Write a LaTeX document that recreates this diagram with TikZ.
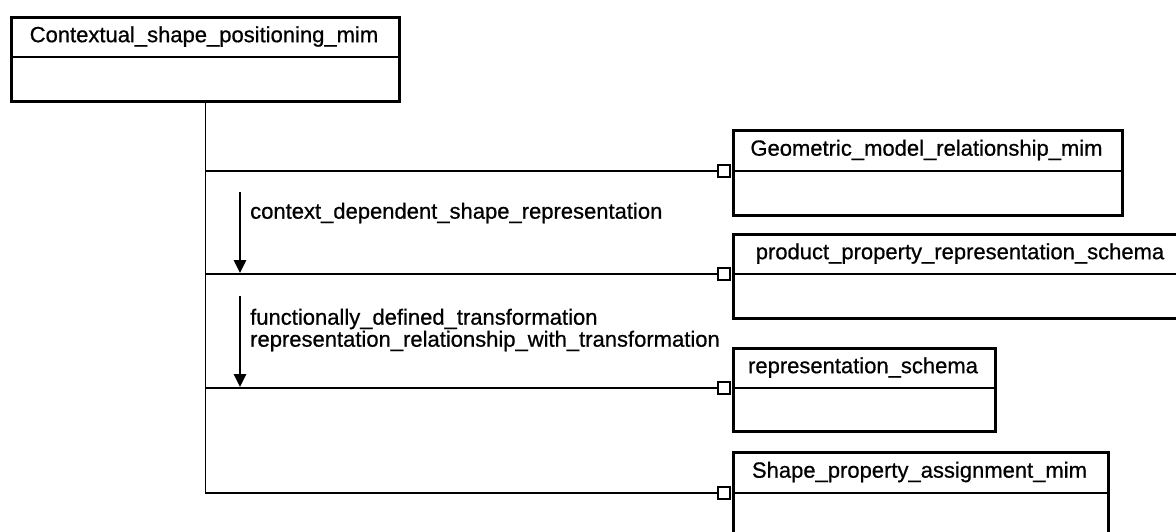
\documentclass[tikz,border=0pt]{standalone}
\usepackage{fontspec}
\setmainfont{Liberation Sans}
\newfontfamily\diagfont[FakeBold=0.7]{Liberation Sans}
\usetikzlibrary{arrows.meta}
\begin{document}
\begin{tikzpicture}[x=1pt,y=-1pt,
  cls/.style={draw, line width=2.6pt, inner sep=0pt, anchor=north west},
  ttl/.style={font=\diagfont\fontsize{22}{22}\selectfont, inner sep=0pt},
  lbl/.style={font=\diagfont\fontsize{22}{22}\selectfont, inner sep=0pt, anchor=west, align=left},
  port/.style={draw, fill=white, line width=2.4pt, minimum size=12pt, inner sep=0pt},
  divider/.style={line width=2.6pt},
  thindiv/.style={line width=1.5pt},
  link/.style={line width=2.6pt},
  thinlink/.style={line width=1.6pt},
  role/.style={line width=2.6pt, -{Triangle[length=13pt,width=12pt]}},
]
\useasboundingbox (0,0) rectangle (1176,531);
\clip (0,0) rectangle (1176,531);
% classes
\node[cls, minimum width=388pt, minimum height=84pt] (ctx) at (10,16) {};
\draw[divider] (10,57) -- (398,57);
\node[ttl] (ctxt) at (204,36.5) {Contextual\_shape\_positioning\_mim};

\node[cls, minimum width=389pt, minimum height=85pt] (geo) at (732,129) {};
\draw[thindiv] (732,171) -- (1121,171);
\node[ttl] (geot) at (926.5,150) {Geometric\_model\_relationship\_mim};

\node[cls, minimum width=456pt, minimum height=84pt] (pps) at (732,233) {};
\draw[divider] (732,274) -- (1188,274);
\node[ttl] (ppst) at (960,253.5) {product\_property\_representation\_schema};

\node[cls, minimum width=262pt, minimum height=83pt] (rs) at (732,347) {};
\draw[divider] (732,388) -- (994,388);
\node[ttl] (rst) at (863,367.5) {representation\_schema};

\node[cls, minimum width=375pt, minimum height=90pt] (spa) at (732,451) {};
\draw[divider] (732,493) -- (1107,493);
\node[ttl] (spat) at (919.5,472) {Shape\_property\_assignment\_mim};

% ports
\node[port] (p1) at (724,171) {};
\node[port] (p2) at (724,274) {};
\node[port] (p3) at (724,388) {};
\node[port] (p4) at (724,493) {};

% connectors
\draw[thinlink] (ctx.south) -- (ctx.south |- p4);
\draw[link] (ctx.south |- p4) -- (p4.west);
\draw[thinlink] (ctx.south |- p1) -- (p1.west);
\draw[link] (ctx.south |- p2) -- (p2.west);
\draw[link] (ctx.south |- p3) -- (p3.west);

% role arrows
\coordinate (a1s) at (240,192);
\coordinate (a1e) at (240,273);
\coordinate (a2s) at (240,296);
\coordinate (a2e) at (240,387);
\draw[role] (a1s) -- (a1e);
\draw[role] (a2s) -- (a2e);

\node[lbl] (l1) at (250,213) {context\_dependent\_shape\_representation};
\node[lbl] (l2) at (250,330) {functionally\_defined\_transformation\\representation\_relationship\_with\_transformation};
\end{tikzpicture}
\end{document}
